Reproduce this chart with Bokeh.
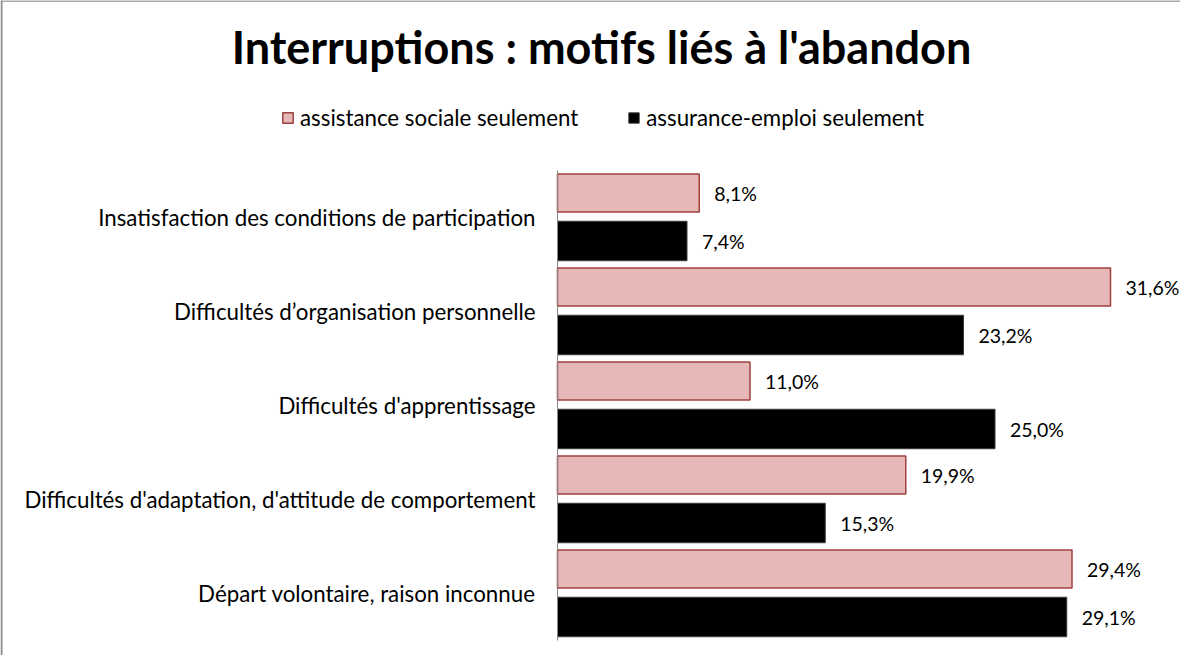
from bokeh.plotting import figure
from bokeh.models import Range1d, LinearAxis, FixedTicker, Label, Legend, LegendItem, ColumnDataSource, Span
from bokeh.core.properties import value
from bokeh.embed import file_html
from bokeh.resources import INLINE

categories = [
    "Insatisfaction des conditions de participation",
    "Difficultés d’organisation personnelle",
    "Difficultés d'apprentissage",
    "Difficultés d'adaptation, d'attitude de comportement",
    "Départ volontaire, raison inconnue",
]
series_names = ["assistance sociale seulement", "assurance-emploi seulement"]
assistance = [8.1, 31.6, 11.0, 19.9, 29.4]
assurance = [7.4, 23.2, 25.0, 15.3, 29.1]
title_text = "Interruptions : motifs liés à l'abandon"

FONT = "Lato"
PINK = "#E6B9B8"
PINK_LINE = "#A0403C"
BORDER = "#8C8C8C"

W, H = 1180, 655
x0_px = 557.0           # frame px of x = 0
px_per_unit = 17.5
y0_px = 170.0           # frame px (from top) of category band start
py_per_cat = 94.0

x_start = -x0_px / px_per_unit
y_top = -y0_px / py_per_cat

p = figure(width=W, height=H, output_backend="svg", toolbar_location=None,
           x_axis_location=None, y_axis_location=None,
           min_border=0, min_border_left=0, min_border_right=0,
           min_border_top=0, min_border_bottom=0)
p.x_range = Range1d(x_start, (W - x0_px) / px_per_unit)
p.y_range = Range1d(len(categories) + (H - y0_px - py_per_cat * len(categories)) / py_per_cat,
                    y_top)
p.xgrid.visible = False
p.ygrid.visible = False
p.outline_line_color = None
p.background_fill_color = "white"
p.border_fill_color = "white"

# chart-area border: only the left and top edges are inside the picture
p.add_layout(Span(location=x_start + 1.0 / px_per_unit, dimension="height",
                  line_color=BORDER, line_width=2))
p.add_layout(Span(location=y_top + 0.5 / py_per_cat, dimension="width",
                  line_color=BORDER, line_width=1.5))

idx = list(range(len(categories)))
src_a = ColumnDataSource(dict(
    y=[i + 0.24 for i in idx], v=assistance,
    lbl=[f"{v:.1f}%".replace(".", ",") for v in assistance]))
src_b = ColumnDataSource(dict(
    y=[i + 0.75 for i in idx], v=assurance,
    lbl=[f"{v:.1f}%".replace(".", ",") for v in assurance]))

ra = p.hbar(y="y", left=0, right="v", height=0.405, source=src_a,
            fill_color=PINK, line_color=PINK_LINE, line_width=1.5)
rb = p.hbar(y="y", left=0, right="v", height=0.42, source=src_b,
            fill_color="black", line_color="#3a3a3a", line_width=1)

for src in (src_a, src_b):
    p.text(x="v", y="y", text="lbl", source=src, x_offset=15,
           text_baseline="middle", text_align="left",
           text_font=value(FONT), text_font_size="19.5px", text_color="black")

yaxis = LinearAxis(fixed_location=0)
yaxis.ticker = FixedTicker(ticks=[i + 0.5 for i in idx])
yaxis.major_label_overrides = {i + 0.5: c for i, c in zip(idx, categories)}
yaxis.bounds = (0, len(categories))
yaxis.axis_line_color = "#868686"
yaxis.axis_line_width = 1
yaxis.major_tick_line_color = None
yaxis.minor_tick_line_color = None
yaxis.major_tick_out = 0
yaxis.major_tick_in = 0
yaxis.major_label_standoff = 22
yaxis.major_label_text_font = FONT
yaxis.major_label_text_font_size = "22.3px"
yaxis.major_label_text_color = "black"
p.add_layout(yaxis, "left")

title = Label(x=(609 - 8 - x0_px) / px_per_unit, y=(46 - y0_px) / py_per_cat,
              text=title_text, text_align="center", text_baseline="alphabetic",
              text_font=FONT, text_font_style="bold", text_font_size="45px",
              text_color="black")
p.add_layout(title)

legend = Legend(items=[LegendItem(label=series_names[0], renderers=[ra]),
                       LegendItem(label=series_names[1], renderers=[rb])],
                orientation="horizontal", location=(281, 524),
                glyph_width=13, glyph_height=13, label_standoff=6, spacing=49,
                padding=0, margin=0, border_line_color=None,
                background_fill_alpha=0,
                label_text_font=FONT, label_text_font_size="22.3px",
                label_text_color="black", label_height=20)
p.add_layout(legend, "center")

open("out.html", "w").write(file_html(p, INLINE))
